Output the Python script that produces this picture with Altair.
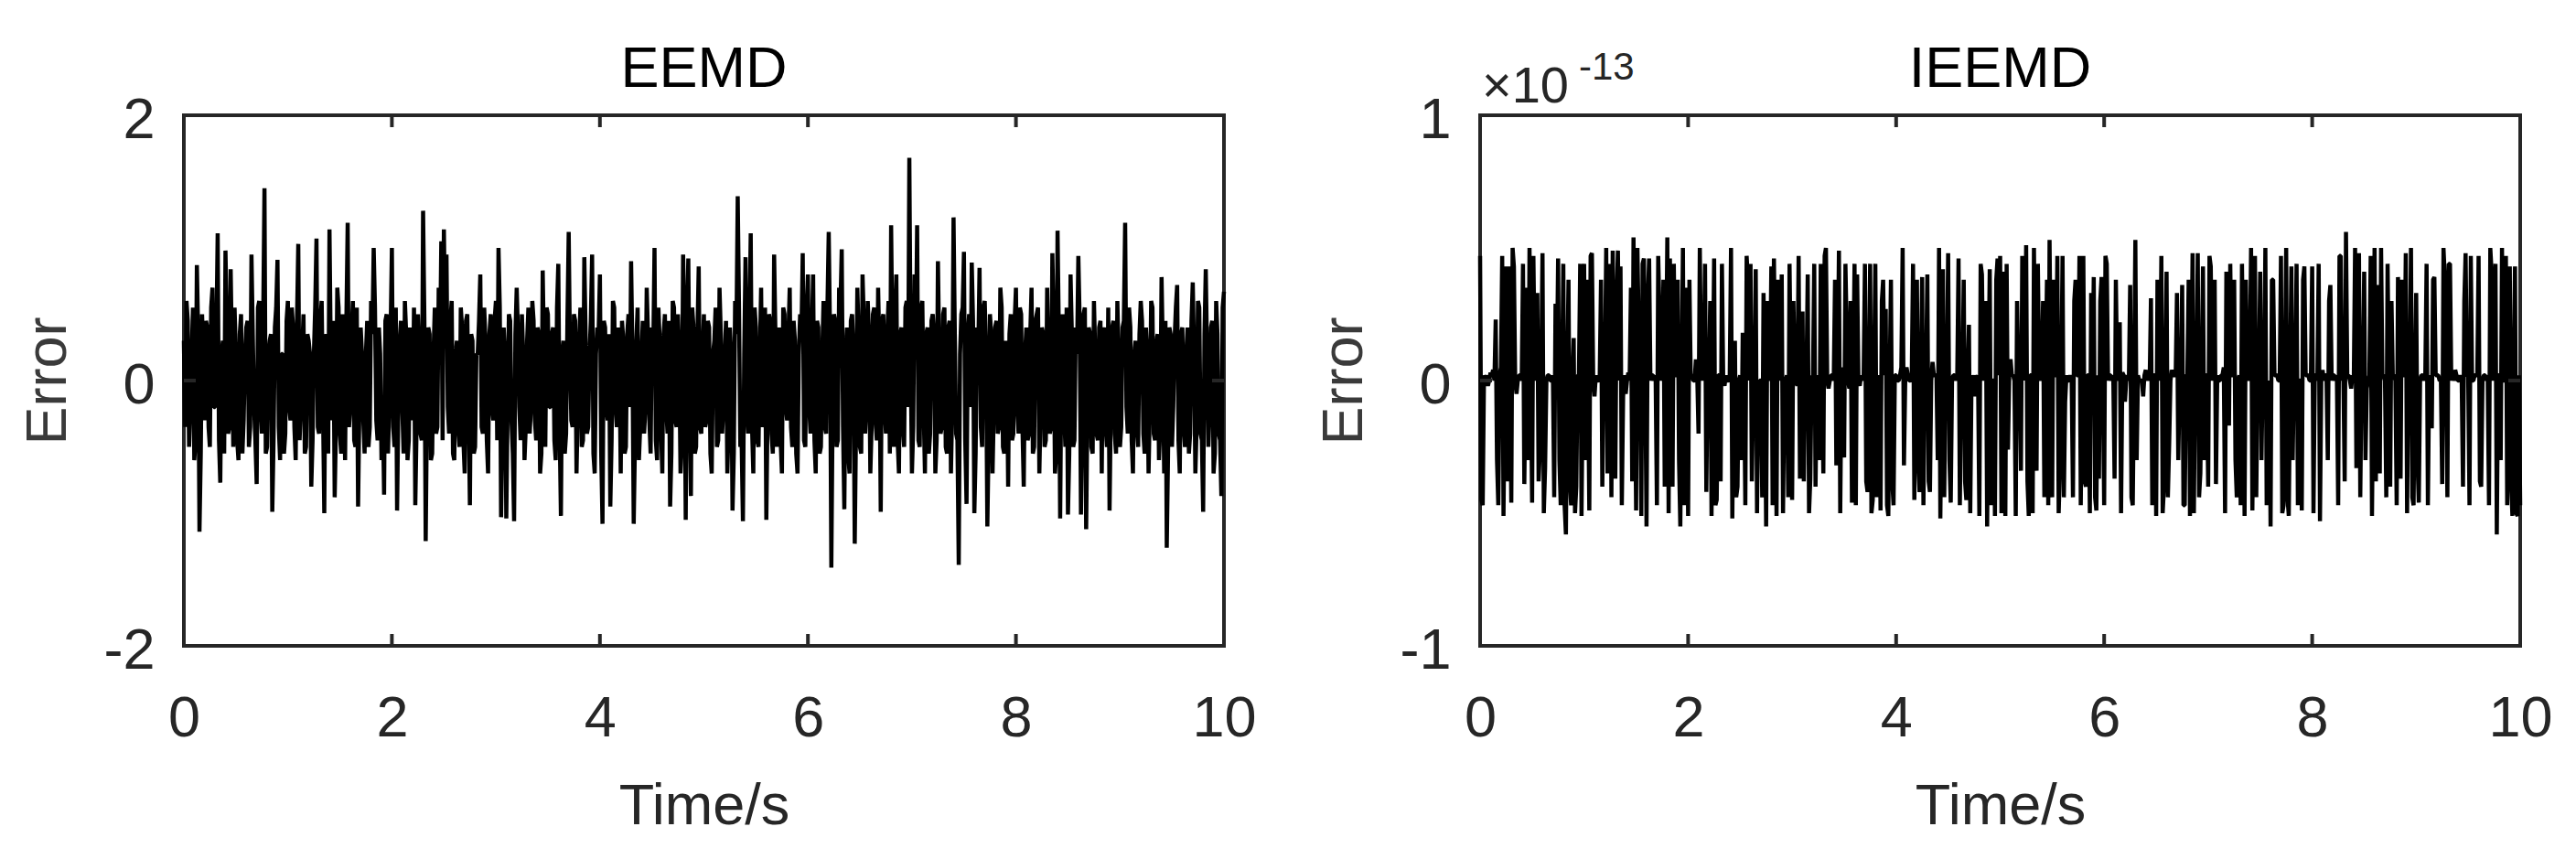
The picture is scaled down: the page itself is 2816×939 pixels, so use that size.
import altair as alt
import pandas as pd

# ---- data ----
# EEMD reconstruction error (axis units): the main samples ...
eemd_error = [
    0.3, 0.6, -0.5, 0.2, -0.6, 0.87, -1.14, 0.5, -0.3, 0.4, -0.5, 0.7, -0.2, 1.11, -0.77, 0.3, 0.98, -0.4, 0.84, -0.5,
    0.2, -0.6, 0.5, -0.3, 0.4, -0.5, 0.95, -0.2, -0.78, 0.6, -0.4, 1.45, -0.5, 0.3, -0.99, 0.4, 0.91, -0.6, 0.2, -0.4,
    0.6, -0.3, 0.4, -0.6, 1.03, -0.2, 0.5, -0.5, 0.3, -0.8, 0.2, 1.07, -0.4, 0.6, -1.0, 0.3, 1.14, -0.3, -0.88, 0.7,
    -0.4, 0.5, -0.6, 1.19, -0.2, 0.6, -0.5, -0.95, 0.4, -0.3, 0.2, -0.5, 0.6, 1.0, -0.3, 0.4, -0.6, -0.86, 0.5, -0.2,
    1.0, -0.5, -0.98, 0.3, -0.2, 0.6, -0.6, 0.4, -0.3, -0.94, 0.5, -0.4, 1.28, -1.21, 0.4, -0.6, 0.2, -0.4, 0.7, 1.05,
    1.14, 0.95, -0.4, 0.6, -0.6, 0.3, -0.5, 0.4, -0.7, 0.5, -0.94, 0.3, -0.5, 0.2, 0.8, -0.4, 0.3, -0.7, 0.5, -0.3,
    0.6, 1.0, -1.03, 0.4, -1.04, 0.5, -0.3, -1.06, 0.7, -0.2, 0.5, -0.6, 0.3, -0.4, 0.6, -0.3, 0.4, -0.7, 0.83, -0.5,
    0.5, -0.2, 0.4, -0.6, 0.88, -1.02, 0.3, -0.4, 1.12, -0.3, 0.5, -0.7, 0.3, -0.5, 0.93, -0.4, 0.2, 0.95, -0.7, 0.4,
    0.8, -1.08, 0.4, -0.3, -0.95, 0.6, -0.2, 0.4, -0.7, 0.3, -0.5, 0.5, 0.9, -1.08, 0.3, -0.6, 0.2, -0.4, 0.7, -0.3,
    0.4, 1.0, -0.6, 0.3, -0.7, 0.5, -0.4, -0.95, 0.6, -0.3, 0.5, -0.7, 0.95, -1.05, 0.92, -0.87, 0.4, -0.5, 0.86, -0.4,
    0.5, -0.3, 0.4, -0.7, 0.3, -0.5, 0.7, -0.4, 0.2, -0.7, 0.4, -0.98, 0.6, 1.39, -0.5, -1.06, 0.93, -0.4, 1.11, -0.7,
    0.4, -0.5, 0.7, -0.3, -1.05, 0.5, -0.4, 0.95, -0.5, 0.4, -0.7, 0.5, -0.3, 0.7, -0.5, 0.3, -0.7, 0.5, 0.96, -0.5,
    0.8, -0.4, 0.8, -0.7, 0.4, -0.5, 0.6, -0.4, 1.12, -1.41, 0.5, -0.5, 0.7, 0.99, -0.97, 0.4, -0.7, 0.5, -1.23, 0.7,
    -0.5, 0.8, -0.4, 0.6, -0.7, 0.5, -0.3, 0.7, -0.99, 0.5, -0.4, 0.6, 1.17, -0.5, 0.8, -0.7, 0.4, -0.5, 0.6, 1.68,
    -0.7, 0.8, 1.17, -0.5, 0.6, -0.7, 0.4, -0.4, 0.5, -0.7, 0.9, -0.4, 0.5, -0.5, 0.4, -0.7, 1.23, -0.4, -1.39, 0.5,
    0.97, -0.93, 0.5, 0.89, -1.0, 0.4, 0.85, -0.5, 0.6, -1.1, 0.5, -0.7, 0.4, -0.4, 0.7, -0.5, 0.3, -0.8, 0.5, -0.4,
    0.7, -0.4, 0.5, -0.8, 0.4, -0.4, 0.7, -0.5, 0.5, -0.7, 0.4, -0.5, 0.7, -0.4, 0.96, -0.7, 1.13, -1.04, 0.5, -0.5,
    -1.01, 0.8, -0.5, 0.4, 0.94, -1.01, 0.5, -1.12, 0.4, -0.5, 0.6, -0.4, 0.4, -0.7, 0.4, -0.5, -0.98, 0.4, -0.4, 0.6,
    -0.5, 0.4, 1.19, -0.4, 0.4, -0.7, 0.3, -0.5, 0.6, -0.4, 0.4, -0.7, 0.6, -0.4, 0.3, -0.6, 0.78, -0.7, -1.26, 0.4,
    -0.5, 0.3, 0.72, -0.7, 0.4, -0.5, 0.4, -0.4, 0.74, -0.7, 0.6, -0.4, -0.99, 0.84, -0.5, 0.4, -0.7, 0.6, -0.4, -0.87,
    0.67,
]
# ... and the smaller swings seen between them (one between each pair of main samples)
eemd_between = [
    -0.35, 0.45, -0.2, 0.55, -0.45, 0.35, -0.55, 0.2, 0.45, -0.35, 0.55, -0.2, 0.35, -0.45, 0.2, -0.55, 0.45, -0.35, 0.2, 0.55,
    -0.45, 0.35, -0.55, 0.2, 0.45, -0.35, 0.35, -0.45, 0.55, -0.2, 0.45, -0.55, 0.2, 0.35, -0.45, 0.55, -0.35, 0.2, -0.55, 0.45,
    -0.2, 0.55, -0.35, 0.45, -0.45, 0.2, -0.55, 0.35, 0.2, -0.45, 0.55, -0.35, 0.45, -0.2, 0.35, -0.55, 0.2, 0.45, -0.35, 0.55,
    -0.55, 0.2, 0.45, -0.35, 0.35, -0.45, 0.55, -0.2, 0.2, -0.55, 0.45, -0.35, 0.35, 0.55, -0.45, 0.2, -0.2, 0.45, -0.55, 0.35,
    -0.35, 0.55, -0.2, 0.45, -0.55, 0.35, -0.45, 0.2, 0.55, -0.35, 0.2, -0.45, 0.45, -0.2, 0.35, -0.55, 0.55, -0.35, 0.2, -0.45,
    0.35, -0.2, 0.45, -0.55, 0.2, -0.35, 0.55, -0.45, 0.45, -0.2, 0.35, -0.55, 0.2, 0.45, -0.35, 0.55, -0.45, 0.35, -0.2, 0.45,
    -0.45, 0.55, -0.35, 0.2, -0.2, 0.45, -0.55, 0.35, 0.35, -0.45, 0.2, -0.35, 0.55, -0.2, 0.45, -0.45, 0.35, -0.55, 0.2, 0.55,
    -0.2, 0.35, -0.45, 0.55, -0.35, 0.2, -0.55, 0.45, 0.2, -0.35, 0.45, -0.2, 0.55, -0.45, 0.35, -0.35, 0.45, -0.55, 0.2, 0.35,
    -0.55, 0.45, -0.2, 0.35, -0.45, 0.55, -0.35, 0.2, 0.45, -0.55, 0.35, -0.2, 0.2, -0.45, 0.55, -0.35, 0.45, -0.2, 0.35, -0.55,
    0.2, -0.45, 0.55, -0.35, 0.35, -0.2, 0.45, -0.55, 0.55, -0.35, 0.2, -0.45, 0.35, 0.45, -0.2, 0.55, -0.55, 0.35, -0.35, 0.2,
    -0.35, 0.45, -0.55, 0.2, 0.55, -0.45, 0.35, -0.2, 0.45, -0.35, 0.2, -0.55, 0.35, 0.55, -0.45, 0.2, -0.2, 0.45, -0.35, 0.55,
    -0.45, 0.2, -0.35, 0.55, -0.2, 0.45, -0.55, 0.35, 0.2, -0.45, 0.55, -0.2, 0.35, -0.35, 0.45, -0.55, 0.2, 0.35, -0.45, 0.55,
    -0.2, 0.35, -0.45, 0.45, -0.55, 0.2, -0.35, 0.55, 0.35, -0.2, 0.45, -0.45, 0.55, -0.35, 0.2, -0.55, 0.45, 0.2, -0.35, 0.35,
    -0.55, 0.45, -0.2, 0.35, -0.35, 0.55, -0.45, 0.2, 0.45, -0.2, 0.35, -0.55, 0.2, 0.45, -0.45, 0.35, -0.35, 0.55, -0.2, 0.2,
    -0.35, 0.2, -0.45, 0.55, -0.2, 0.35, -0.55, 0.45, 0.35, -0.45, 0.2, -0.35, 0.55, -0.55, 0.45, -0.2, 0.35, -0.45, 0.2, 0.55,
    -0.45, 0.35, -0.2, 0.45, -0.55, 0.2, -0.35, 0.55, 0.2, -0.45, 0.35, -0.2, 0.45, -0.35, 0.55, -0.55, 0.2, 0.35, -0.45, 0.45,
    -0.2, 0.55, -0.35, 0.2, -0.45, 0.35, -0.55, 0.45, 0.55, -0.2, 0.35, -0.45, 0.2, -0.35, 0.45, -0.55, 0.35, 0.2, -0.2, 0.55,
    -0.55, 0.35, -0.45, 0.2, 0.45, -0.35, 0.55, -0.2, 0.35, -0.55, 0.2, -0.45, 0.45, 0.35, -0.35, 0.55, -0.2, 0.45, -0.55, 0.2,
    -0.35, 0.45, -0.2, 0.55, -0.45, 0.2, -0.35, 0.35, 0.45, -0.55, 0.2, -0.2, 0.55, -0.45, 0.35, -0.35, 0.2, 0.45, -0.55, 0.35,
    -0.2, 0.55, -0.45, 0.35, -0.35, 0.2, -0.55, 0.45, 0.2, -0.35, 0.55, -0.45, 0.35, 0.2, -0.2, 0.45, -0.55, 0.35, -0.45, 0.55,
]

# IEEMD reconstruction error, in units of 1e-13 (as on the axis): main samples ...
ieemd_error = [
    0.47, -0.47, 0.0, -0.02, 0.03, 0.04, 0.23, -0.47, 0.05, -0.51, 0.43, 0.43, -0.46, 0.43, -0.05, 0.02, 0.0, -0.39, 0.35, 0.5,
    -0.46, 0.05, 0.33, -0.26, 0.48, -0.33, 0.02, 0.0, 0.02, 0.29, 0.46, -0.47, 0.44, -0.58, 0.38, -0.47, 0.16, -0.4, 0.02, -0.51,
    0.44, 0.38, -0.49, 0.48, -0.06, 0.0, 0.02, -0.4, 0.04, -0.35, 0.44, 0.49, -0.37, 0.49, 0.43, -0.06, -0.05, 0.03, 0.35, 0.54,
    -0.49, 0.2, -0.51, 0.46, -0.55, 0.46, 0.02, 0.0, -0.47, 0.24, 0.02, -0.4, 0.54, 0.46, -0.4, 0.02, 0.38, -0.55, 0.5, 0.35,
    -0.51, 0.02, 0.0, 0.08, -0.2, 0.03, 0.05, -0.42, 0.02, -0.51, 0.46, -0.45, 0.02, 0.44, -0.02, 0.0, 0.02, -0.52, 0.15, -0.4,
    0.02, 0.18, -0.47, 0.38, 0.44, -0.06, 0.42, -0.03, 0.0, 0.33, -0.55, 0.02, 0.43, 0.46, -0.51, 0.03, 0.4, -0.03, 0.02, 0.44,
    -0.45, 0.0, -0.02, -0.37, 0.26, 0.02, 0.4, -0.37, 0.0, -0.4, 0.02, 0.44, -0.35, 0.5, -0.03, 0.02, 0.0, -0.32, 0.49, 0.05,
    -0.29, 0.18, -0.03, -0.46, 0.44, 0.4, -0.02, 0.0, 0.44, -0.42, 0.44, -0.45, 0.44, 0.02, -0.49, 0.38, 0.27, -0.51, 0.38, -0.47,
    0.02, 0.0, 0.05, -0.32, 0.05, 0.0, 0.02, -0.45, 0.38, -0.42, 0.39, 0.02, 0.4, -0.42, 0.07, 0.02, -0.3, -0.52, 0.42, 0.02,
    0.48, -0.46, 0.02, 0.0, 0.46, -0.06, 0.38, -0.45, 0.21, 0.02, -0.06, 0.0, -0.51, 0.4, 0.02, -0.55, 0.42, 0.0, -0.51, 0.46,
    0.47, 0.41, -0.51, -0.26, 0.08, 0.02, -0.51, 0.02, -0.34, 0.28, 0.51, -0.51, 0.02, 0.5, -0.34, 0.04, 0.02, -0.44, 0.38, 0.53,
    -0.44, 0.02, 0.47, -0.33, 0.47, -0.08, 0.0, 0.02, -0.44, 0.38, 0.02, -0.47, 0.47, -0.4, 0.02, 0.33, 0.39, -0.49, -0.37, 0.39,
    -0.47, 0.44, 0.02, 0.0, -0.37, 0.02, 0.22, 0.03, -0.08, 0.02, 0.36, -0.47, 0.53, 0.02, 0.0, -0.06, 0.04, 0.02, 0.31, 0.02,
    -0.51, 0.05, 0.47, -0.4, 0.41, -0.24, 0.04, 0.02, 0.33, -0.03, 0.36, -0.47, 0.02, -0.51, 0.48, 0.02, 0.48, -0.35, 0.43, 0.02,
    -0.4, 0.43, 0.02, -0.39, 0.0, 0.02, 0.05, 0.41, -0.17, 0.02, 0.38, -0.44, 0.02, 0.44, -0.51, 0.04, 0.02, -0.49, 0.47, 0.02,
    0.41, 0.02, 0.5, -0.03, -0.55, 0.38, 0.02, 0.0, 0.47, -0.47, 0.5, -0.51, 0.43, 0.02, 0.44, 0.0, -0.49, 0.43, 0.02, 0.0,
    0.43, 0.02, 0.0, -0.53, 0.04, 0.02, -0.3, 0.36, 0.02, 0.0, -0.47, 0.47, 0.02, 0.56, 0.02, -0.03, 0.0, -0.33, 0.48, 0.02,
    0.41, -0.03, 0.02, -0.51, 0.5, 0.36, -0.35, 0.02, 0.0, 0.44, -0.4, 0.02, 0.0, 0.39, -0.37, 0.02, 0.48, 0.02, 0.5, -0.47,
    0.33, -0.46, 0.02, 0.0, 0.44, 0.02, -0.18, 0.39, 0.02, 0.0, -0.39, 0.39, -0.44, 0.44, 0.02, 0.04, 0.0, 0.02, -0.4, 0.48,
    0.02, 0.47, 0.0, 0.02, 0.47, -0.4, 0.02, 0.0, -0.47, 0.41, 0.02, -0.58, 0.02, 0.5, 0.0, -0.47, 0.43, -0.51, 0.43, -0.51,
    -0.47,
]
# ... and the swings seen between them
ieemd_between = [
    -0.45, 0.02, 0.02, 0.0, 0.02, 0.0, -0.3, 0.02, 0.47, 0.0, -0.38, 0.02, 0.5, 0.0, 0.0, 0.02, 0.44, 0.0, -0.3, 0.02,
    0.47, 0.0, -0.38, 0.02, -0.5, 0.0, 0.02, 0.0, -0.44, 0.02, -0.3, 0.0, -0.47, 0.02, -0.38, 0.0, -0.5, 0.02, 0.44, 0.0,
    -0.3, 0.02, 0.47, 0.0, 0.02, 0.0, 0.38, 0.02, 0.5, 0.0, -0.44, 0.02, 0.3, 0.0, -0.47, 0.02, 0.0, 0.0, -0.38, 0.02,
    0.5, 0.0, 0.44, 0.02, 0.3, 0.0, 0.02, 0.02, 0.47, 0.0, 0.38, 0.02, -0.5, 0.0, 0.44, 0.02, -0.3, 0.0, -0.47, 0.02,
    0.38, 0.02, 0.0, 0.02, 0.5, 0.0, 0.44, 0.02, 0.3, 0.0, -0.47, 0.02, -0.38, 0.0, 0.02, 0.0, 0.5, 0.02, -0.44, 0.0,
    -0.3, 0.02, 0.47, 0.0, -0.38, 0.02, -0.5, 0.0, -0.44, 0.02, 0.3, 0.0, -0.47, 0.02, 0.38, 0.0, -0.5, 0.0, -0.44, 0.02,
    0.3, 0.0, 0.47, 0.02, -0.38, 0.0, -0.5, 0.02, 0.44, 0.0, -0.3, 0.02, 0.47, 0.0, 0.0, 0.02, 0.38, 0.0, -0.5, 0.02,
    0.44, 0.0, 0.3, 0.02, -0.47, 0.0, 0.02, 0.02, -0.38, 0.0, -0.5, 0.02, -0.44, 0.0, 0.3, 0.02, -0.47, 0.0, -0.38, 0.02,
    0.0, 0.02, 0.5, 0.0, 0.02, 0.0, 0.44, 0.02, -0.3, 0.0, -0.47, 0.02, -0.38, 0.0, 0.02, 0.02, 0.5, 0.0, -0.44, 0.02,
    -0.3, 0.0, 0.02, 0.02, -0.47, 0.0, -0.38, 0.02, -0.5, 0.0, 0.02, 0.02, 0.44, 0.0, 0.3, 0.02, -0.47, 0.0, 0.38, 0.02,
    -0.5, 0.0, 0.44, 0.02, 0.02, 0.0, 0.3, 0.02, 0.47, 0.0, -0.38, 0.02, -0.5, 0.0, 0.44, 0.0, 0.3, 0.02, -0.47, 0.0,
    0.38, 0.02, -0.5, 0.0, -0.44, 0.02, 0.0, 0.0, 0.3, 0.02, 0.47, 0.0, -0.38, 0.02, -0.5, 0.0, -0.44, 0.02, 0.3, 0.0,
    0.47, 0.0, 0.02, 0.02, 0.38, 0.0, -0.5, 0.02, 0.0, 0.0, -0.44, 0.02, -0.3, 0.0, 0.0, 0.02, 0.0, 0.0, -0.47, 0.02,
    0.38, 0.0, -0.5, 0.02, -0.44, 0.0, 0.02, 0.02, -0.3, 0.0, -0.47, 0.02, 0.38, 0.0, -0.5, 0.02, -0.44, 0.0, -0.3, 0.02,
    0.47, 0.0, 0.38, 0.02, 0.0, 0.02, -0.5, 0.0, 0.44, 0.02, -0.3, 0.0, -0.47, 0.02, 0.38, 0.0, 0.5, 0.02, -0.44, 0.0,
    -0.3, 0.02, -0.47, 0.0, 0.38, 0.02, 0.02, 0.0, -0.5, 0.02, -0.44, 0.0, -0.3, 0.02, -0.47, 0.0, 0.38, 0.02, 0.02, 0.0,
    -0.5, 0.02, 0.44, 0.0, 0.0, 0.02, 0.3, 0.0, 0.02, 0.02, 0.47, 0.0, -0.38, 0.02, 0.0, 0.02, 0.5, 0.0, -0.44, 0.02,
    -0.3, 0.0, 0.47, 0.02, -0.38, 0.0, 0.5, 0.02, -0.44, 0.0, 0.3, 0.02, -0.47, 0.0, 0.38, 0.02, -0.5, 0.0, -0.44, 0.02,
    -0.3, 0.0, 0.02, 0.02, -0.47, 0.0, 0.38, 0.02, 0.02, 0.0, 0.5, 0.02, 0.44, 0.0, 0.0, 0.02, 0.0, 0.0, 0.3, 0.02,
    -0.47, 0.0, 0.02, 0.02, -0.38, 0.0, 0.02, 0.02, 0.5, 0.0, 0.44, 0.02, -0.3, 0.0, 0.47, 0.02, -0.38, 0.0, -0.5, 0.02,
]

t_end = 10
x_tick_values = [0, 2, 4, 6, 8, 10]
eemd_y_ticks = [-2, 0, 2]
ieemd_y_ticks = [-1, 0, 1]
panel_titles = ["EEMD", "IEEMD"]
x_title = "Time/s"
y_title = "Error"
exponent_base = ["×10"]
exponent_power = ["-13"]

# ---- styling ----
W, H = 1137, 580
FONT = "Liberation Sans"
INK = "#262626"
FS = 63
TICK_LEN = 13
LINE_W = 4.5


def series(values):
    n = len(values)
    return pd.DataFrame({"t": [i * t_end / (n - 1) for i in range(n)], "e": values})


def interleave(main, between):
    out = []
    for i, v in enumerate(main):
        out.append(v)
        if i < len(between) and i < len(main) - 1:
            out.append(between[i])
    return out


def panel(values, yticks, title, exponent=False):
    df = series(values)
    xs = alt.Scale(domain=[0, t_end], nice=False, zero=False)
    ys = alt.Scale(domain=[yticks[0], yticks[-1]], nice=False, zero=False)
    xaxis = alt.Axis(
        values=x_tick_values, grid=False, domain=False, ticks=False, tickSize=0,
        labelFont=FONT, labelFontSize=FS, labelColor=INK, labelPadding=98,
        labelBaseline="alphabetic", labelFlush=False, labelOverlap=False,
        labelExpr="'' + datum.value",
        title=x_title, titleFont=FONT, titleFontSize=FS, titleFontWeight="normal",
        titleColor=INK, titleBaseline="alphabetic", titleY=194, titleX=W / 2,
        titleAlign="center",
    )
    yaxis = alt.Axis(
        values=yticks, grid=False, domain=False, ticks=False, tickSize=0,
        labelFont=FONT, labelFontSize=FS, labelColor=INK, labelPadding=32,
        labelAlign="right", labelBaseline="middle", labelOffset=5,
        labelFlush=False, labelOverlap=False,
        labelExpr="'' + datum.value",
        title=y_title, titleFont=FONT, titleFontSize=FS, titleFontWeight="normal",
        titleColor="#3a3a3a", titleBaseline="alphabetic", titleX=-130, titleY=H / 2,
        titleAlign="center",
    )
    xt = pd.DataFrame({"t": x_tick_values})
    yt = pd.DataFrame({"e": yticks})
    X = alt.X("t:Q", scale=xs, axis=xaxis)
    Y = alt.Y("e:Q", scale=ys, axis=yaxis)
    rule = dict(color=INK, strokeWidth=4)
    layers = [
        alt.Chart(df).mark_line(color="black", strokeWidth=LINE_W, strokeJoin="bevel").encode(
            x=X, y=Y, order="t:Q"),
        alt.Chart(xt).mark_rule(**rule).encode(x=X, y=alt.value(0), y2=alt.value(TICK_LEN)),
        alt.Chart(xt).mark_rule(**rule).encode(x=X, y=alt.value(H - TICK_LEN), y2=alt.value(H)),
        alt.Chart(yt).mark_rule(**rule).encode(y=Y, x=alt.value(0), x2=alt.value(TICK_LEN)),
        alt.Chart(yt).mark_rule(**rule).encode(y=Y, x=alt.value(W - TICK_LEN), x2=alt.value(W)),
        alt.Chart(pd.DataFrame({"s": [title]})).mark_text(
            font=FONT, fontSize=FS, color="black", align="center", baseline="alphabetic"
        ).encode(text="s:N", x=alt.value(W / 2), y=alt.value(-31)),
    ]
    if exponent:
        layers.append(
            alt.Chart(pd.DataFrame({"s": exponent_base})).mark_text(
                font=FONT, fontSize=56, color=INK, align="left", baseline="alphabetic"
            ).encode(text="s:N", x=alt.value(2), y=alt.value(-14))
        )
        layers.append(
            alt.Chart(pd.DataFrame({"s": exponent_power})).mark_text(
                font=FONT, fontSize=42, color=INK, align="left", baseline="alphabetic"
            ).encode(text="s:N", x=alt.value(108), y=alt.value(-39))
        )
    return alt.layer(*layers).properties(width=W, height=H)


left = panel(interleave(eemd_error, eemd_between), eemd_y_ticks, panel_titles[0])
right = panel(interleave(ieemd_error, ieemd_between), ieemd_y_ticks, panel_titles[1], exponent=True)

chart = (
    alt.hconcat(left, right, spacing=60)
    .properties(padding={"left": 11, "top": 35, "right": 5, "bottom": 5},
                background="white")
    .configure_view(stroke=INK, strokeWidth=4)
)

chart.save("out.html", embed_options={"renderer": "svg", "actions": False})
